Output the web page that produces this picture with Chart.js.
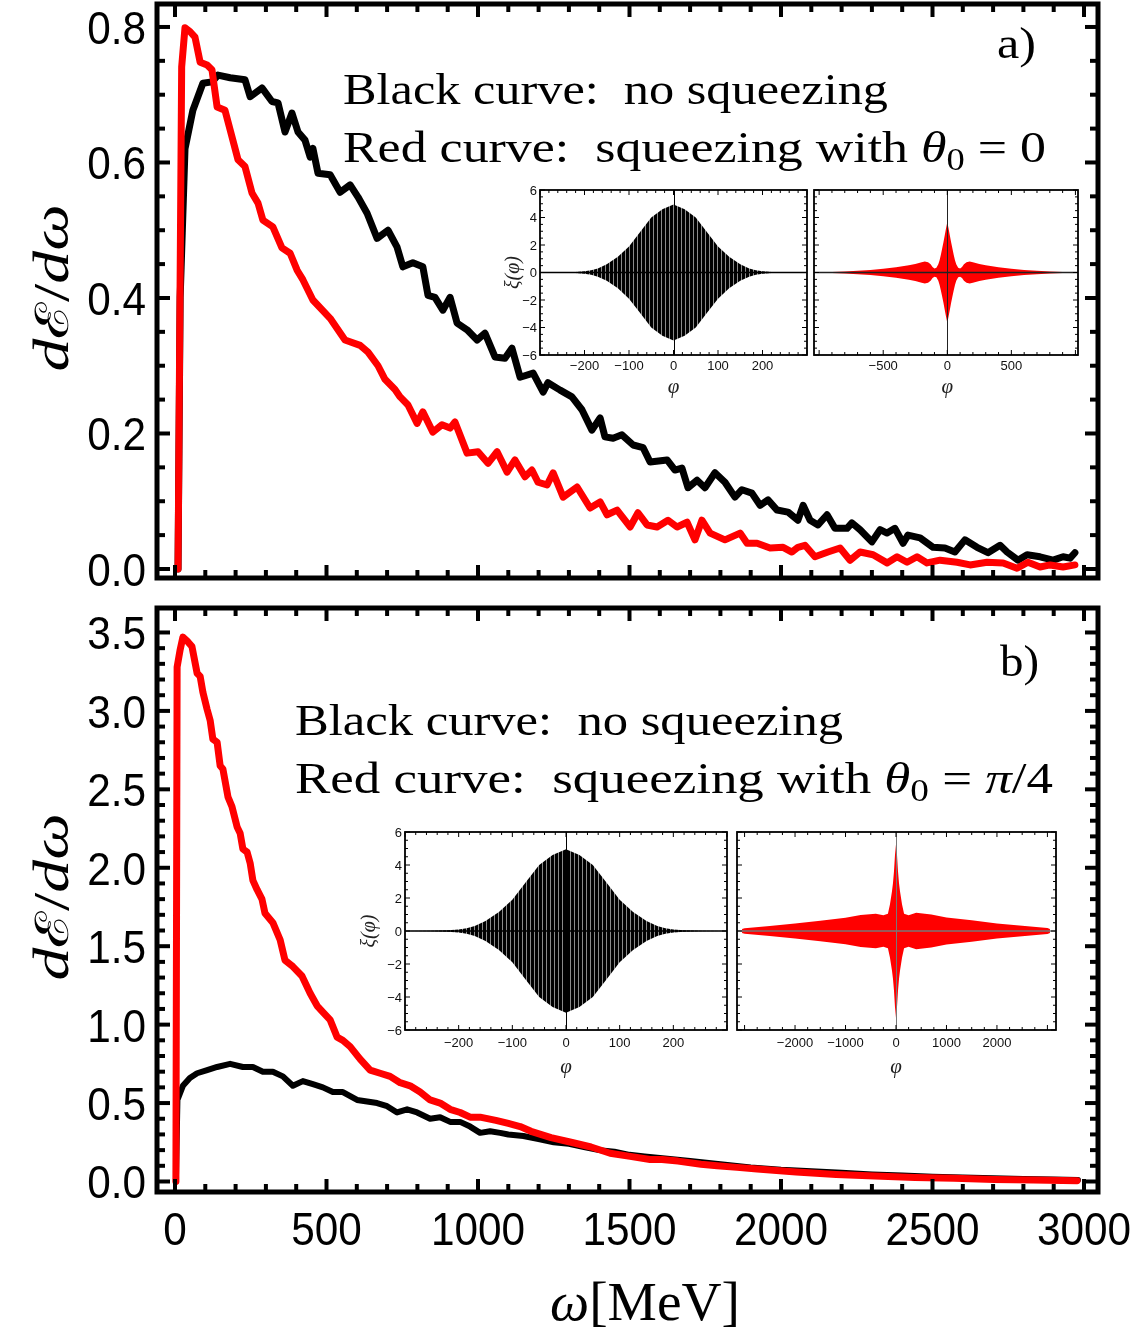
<!DOCTYPE html>
<html><head><meta charset="utf-8">
<script src="https://cdn.jsdelivr.net/npm/chart.js@4.4.1/dist/chart.umd.min.js"></script>
<style>
html,body{margin:0;padding:0;background:#fff;}
body{position:relative;width:1141px;height:1337px;overflow:hidden;}
canvas{position:absolute;}
</style></head><body>
<script>
// ---------------- DATA ----------------
// Panel a) : no squeezing (black) / squeezing theta0 = 0 (red)
const aBlackW = [10,17,33,59,92,122,142,182,231,248,287,320,340,363,386,406,429,446,455,472,512,545,578,604,634,667,703,733,752,785,818,835,858,884,908,931,964,997,1023,1056,1089,1112,1139,1182,1215,1231,1271,1310,1343,1376,1403,1419,1446,1475,1512,1545,1568,1624,1650,1673,1693,1723,1749,1782,1815,1848,1871,1904,1931,1957,1987,2023,2056,2073,2096,2122,2152,2178,2218,2234,2261,2300,2327,2350,2376,2403,2419,2459,2502,2541,2574,2607,2647,2683,2723,2746,2782,2812,2855,2898,2931,2954,2970];
const aBlackE = [0,0.40,0.62,0.677,0.717,0.719,0.729,0.725,0.722,0.697,0.71,0.69,0.688,0.645,0.673,0.645,0.633,0.608,0.621,0.584,0.582,0.556,0.567,0.549,0.525,0.488,0.50,0.475,0.446,0.452,0.446,0.404,0.401,0.382,0.401,0.363,0.353,0.338,0.348,0.313,0.311,0.326,0.283,0.289,0.261,0.275,0.264,0.254,0.235,0.205,0.223,0.195,0.193,0.198,0.183,0.179,0.158,0.161,0.146,0.149,0.12,0.131,0.12,0.142,0.128,0.106,0.117,0.112,0.094,0.102,0.087,0.084,0.072,0.094,0.072,0.065,0.08,0.06,0.06,0.068,0.058,0.04,0.058,0.053,0.06,0.038,0.05,0.046,0.032,0.031,0.025,0.043,0.032,0.024,0.035,0.025,0.013,0.021,0.018,0.013,0.018,0.016,0.024];
const aRedW = [10,22,33,50,66,83,106,122,139,165,182,208,231,254,274,290,323,353,380,403,422,455,512,561,611,637,670,693,726,743,769,799,818,851,881,908,924,964,1000,1033,1063,1096,1122,1155,1178,1198,1228,1248,1281,1327,1370,1403,1426,1459,1502,1528,1558,1591,1627,1657,1690,1716,1739,1766,1815,1865,1888,1921,1964,2007,2036,2056,2079,2112,2155,2195,2228,2261,2304,2350,2383,2416,2449,2482,2525,2581,2624,2680,2733,2779,2815,2855,2888,2931,2970];
const aRedE = [0,0.741,0.799,0.793,0.785,0.748,0.744,0.737,0.682,0.677,0.648,0.604,0.594,0.555,0.54,0.515,0.505,0.474,0.466,0.441,0.427,0.397,0.37,0.338,0.33,0.32,0.30,0.28,0.265,0.254,0.242,0.215,0.232,0.202,0.213,0.208,0.217,0.171,0.173,0.156,0.173,0.143,0.161,0.136,0.146,0.128,0.124,0.142,0.106,0.121,0.09,0.099,0.08,0.087,0.062,0.083,0.065,0.062,0.072,0.062,0.069,0.043,0.072,0.053,0.043,0.053,0.038,0.038,0.031,0.032,0.025,0.032,0.035,0.018,0.025,0.031,0.013,0.025,0.021,0.009,0.018,0.01,0.018,0.009,0.013,0.01,0.006,0.01,0.009,0.001,0.01,0.003,0.006,0.003,0.006];

// Panel b) : no squeezing (black) / squeezing theta0 = pi/4 (red)
const bRedW = [3,7,17,26,43,56,73,83,92,106,116,125,139,149,158,175,188,205,215,224,238,248,257,271,287,297,323,347,363,389,419,446,469,488,512,535,554,578,611,644,677,710,743,776,809,842,875,908,941,974,1007,1059,1100,1139,1175,1241,1307,1373,1436,1502,1568,1607,1660,1736,1789,1855,1921,2050,2182,2310,2442,2571,2703,2832,2977];
const bRedE = [0,3.28,3.39,3.47,3.44,3.41,3.24,3.22,3.12,3.01,2.94,2.82,2.80,2.65,2.63,2.45,2.39,2.26,2.22,2.12,2.10,2.03,1.92,1.86,1.80,1.71,1.65,1.54,1.41,1.37,1.31,1.20,1.12,1.08,1.03,0.92,0.90,0.86,0.78,0.71,0.69,0.67,0.63,0.61,0.57,0.52,0.50,0.46,0.44,0.41,0.41,0.39,0.37,0.35,0.32,0.28,0.25,0.22,0.18,0.16,0.14,0.14,0.13,0.11,0.10,0.09,0.08,0.06,0.045,0.035,0.025,0.02,0.013,0.01,0.005];
const bBlackW = [3,8,26,49,73,106,139,182,224,257,290,323,356,389,422,455,488,521,554,601,634,667,700,733,766,799,842,875,908,941,974,1007,1040,1073,1100,1150,1200,1250,1300,1350,1400,1450,1500,1550,1600,1650,1700,1800,1900,2000,2100,2200,2300,2400,2500,2600,2700,2800,2900,2980];
const bBlackE = [0,0.52,0.61,0.66,0.69,0.71,0.73,0.75,0.73,0.73,0.70,0.70,0.67,0.61,0.64,0.62,0.60,0.57,0.57,0.52,0.51,0.50,0.48,0.44,0.46,0.44,0.40,0.41,0.38,0.38,0.35,0.31,0.32,0.31,0.30,0.29,0.27,0.25,0.24,0.22,0.20,0.19,0.17,0.16,0.15,0.14,0.13,0.11,0.09,0.075,0.065,0.055,0.045,0.038,0.03,0.025,0.02,0.016,0.012,0.01];

// Insets: envelopes |xi(phi)| of the pulses
const pulsePhi = [-300,-250,-220,-200,-185,-170,-150,-125,-100,-75,-50,-25,0,25,50,75,100,125,150,170,185,200,220,250,300];
const pulseAmp = [0,0.01,0.04,0.09,0.17,0.3,0.6,1.15,1.9,2.95,4.0,4.6,4.95,4.6,4.0,2.95,1.9,1.15,0.6,0.3,0.17,0.09,0.04,0.01,0];
const sqAPhi = [-1040,-900,-800,-700,-600,-500,-400,-300,-250,-200,-175,-150,-130,-115,-100,-85,-70,-60,-50,-40,-30,-20,-10,0,10,20,30,40,50,60,70,85,100,115,130,150,175,200,250,300,400,500,600,700,800,900,1020];
const sqAAmp = [0.02,0.04,0.07,0.12,0.19,0.28,0.39,0.53,0.62,0.74,0.8,0.75,0.6,0.4,0.3,0.35,0.6,0.9,1.3,1.75,2.2,2.7,3.2,3.65,3.2,2.7,2.2,1.75,1.3,0.9,0.6,0.35,0.3,0.4,0.6,0.75,0.8,0.74,0.62,0.53,0.39,0.28,0.19,0.12,0.07,0.04,0.02];
const sqBPhi = [-3050,-3000,-2500,-2000,-1500,-1000,-700,-400,-250,-160,-120,-80,-60,-40,-20,0,20,40,60,80,120,160,250,400,700,1000,1500,2000,2500,3000,3050];
const sqBAmp = [0.12,0.16,0.3,0.45,0.62,0.8,0.97,1.05,0.95,1.05,1.6,2.4,2.9,3.6,4.6,5.25,4.6,3.6,2.9,2.4,1.6,1.05,0.95,1.1,1.0,0.82,0.65,0.46,0.32,0.18,0.12];

// Tick labels
const xTickLabels = ['0','500','1000','1500','2000','2500','3000'];
const yTickLabelsA = ['0.0','0.2','0.4','0.6','0.8'];
const yTickLabelsB = ['0.0','0.5','1.0','1.5','2.0','2.5','3.0','3.5'];
const insetYTicks = [-6,-4,-2,0,2,4,6];
const insetPulseXTicks = [-200,-100,0,100,200];
const insetSqAXTicks = [-500,0,500];
const insetSqBXTicks = [-2000,-1000,0,1000,2000];

// ---------------- HELPERS ----------------
const zip = (xs, ys) => xs.map((x, i) => ({x, y: ys[i]}));
const fmt = v => (v < 0 ? '\u2212' + Math.abs(v) : String(v));
function mk(x, y, w, h) {
  const c = document.createElement('canvas');
  c.width = w; c.height = h;
  Object.assign(c.style, {left: x + 'px', top: y + 'px', width: w + 'px', height: h + 'px'});
  document.body.appendChild(c);
  return c;
}
function runs(ctx, list, x, y, opt) {
  ctx.save();
  let total = 0;
  for (const r of list) { ctx.font = r.f; r.w = ctx.measureText(r.t).width; total += r.w; }
  const s = opt.width ? opt.width / total : (opt.scale || 1);
  ctx.translate(x, y);
  if (opt.rot) ctx.rotate(opt.rot);
  ctx.scale(s, 1);
  let cx = opt.align === 'center' ? -total / 2 : opt.align === 'right' ? -total : 0;
  ctx.textAlign = 'left'; ctx.textBaseline = 'alphabetic'; ctx.fillStyle = opt.color || '#000';
  for (const r of list) { ctx.font = r.f; ctx.fillText(r.t, cx, r.dy || 0); cx += r.w; }
  ctx.restore();
}
function seg(ctx, x1, y1, x2, y2) { ctx.beginPath(); ctx.moveTo(x1, y1); ctx.lineTo(x2, y2); ctx.stroke(); }

const SERIF = "'Liberation Serif','DejaVu Serif',serif";
const SANS = "'Liberation Sans','DejaVu Sans',sans-serif";

// ---------------- MAIN PANELS ----------------
function mainDecor(o) {
  return {
    id: 'main' + o.name,
    afterDraw(chart) {
      const ctx = chart.ctx, a = chart.chartArea, xs = chart.scales.x, ys = chart.scales.y;
      ctx.save();
      ctx.strokeStyle = '#000';
      ctx.lineCap = 'butt';
      ctx.lineWidth = 4;
      for (let i = 0; i <= 30; i++) {
        const v = i * 100, major = i % 5 === 0, L = major ? 13 : 8, px = xs.getPixelForValue(v);
        seg(ctx, px, a.bottom, px, a.bottom - L);
        seg(ctx, px, a.top, px, a.top + L);
      }
      const nMinor = Math.round(o.yMax / o.yMinorStep);
      const per = Math.round(o.yMajorStep / o.yMinorStep);
      for (let i = 0; i <= nMinor; i++) {
        const v = i * o.yMinorStep, major = i % per === 0, L = major ? 13 : 8, py = ys.getPixelForValue(v);
        seg(ctx, a.left, py, a.left + L, py);
        seg(ctx, a.right, py, a.right - L, py);
      }
      ctx.lineWidth = 5;
      ctx.strokeRect(a.left, a.top, a.right - a.left, a.bottom - a.top);
      // y tick labels
      for (const lab of o.yLabels) {
        const py = ys.getPixelForValue(parseFloat(lab));
        runs(ctx, [{t: lab, f: '47px ' + SANS}], 146, py + 17, {align: 'right', scale: 0.9});
      }
      if (o.xLabels) {
        for (const lab of o.xLabels) {
          const px = xs.getPixelForValue(parseFloat(lab));
          runs(ctx, [{t: lab, f: '47px ' + SANS}], px, o.xLabelY, {align: 'center', scale: 0.9});
        }
        runs(ctx, [{t: '\u03c9', f: 'italic 54px ' + SERIF}, {t: '[MeV]', f: '54px ' + SERIF}], 550, o.xTitleY, {width: 190});
      }
      // y title
      runs(ctx, [
        {t: 'd', f: 'italic 50px ' + SERIF},
        {t: '\u2130', f: '46px ' + SERIF},
        {t: '/', f: '50px ' + SERIF},
        {t: 'd\u03c9', f: 'italic 50px ' + SERIF}
      ], 68, o.yTitleY, {align: 'center', rot: -Math.PI / 2, width: 167});
      // annotations
      for (const t of o.texts) runs(ctx, t.runs, t.x, t.y, {width: t.w});
      ctx.restore();
    }
  };
}

function mainChart(canvas, pad, xr, yr, datasets, decor) {
  return new Chart(canvas, {
    type: 'line',
    data: {datasets},
    options: {
      responsive: false, animation: false, events: [], devicePixelRatio: 1,
      layout: {padding: pad},
      plugins: {legend: {display: false}, tooltip: {enabled: false}},
      scales: {
        x: {type: 'linear', display: false, min: xr[0], max: xr[1]},
        y: {type: 'linear', display: false, min: yr[0], max: yr[1]}
      },
      elements: {point: {radius: 0}, line: {tension: 0, borderJoinStyle: 'round', borderCapStyle: 'round'}}
    },
    plugins: [decor]
  });
}

const F = 44;
const txt = s => ({t: s, f: F + 'px ' + SERIF});
const ita = s => ({t: s, f: 'italic ' + F + 'px ' + SERIF});
const sub = s => ({t: s, f: Math.round(F * 0.7) + 'px ' + SERIF, dy: 8});

const cA = mk(0, 0, 1141, 600);
mainChart(cA, {left: 157, right: 43, top: 4, bottom: 22}, [-59.4, 3046.2], [-0.0133, 0.8339], [
  {data: zip(aRedW, aRedE), borderColor: '#ff0000', borderWidth: 7, fill: false},
  {data: zip(aBlackW, aBlackE), borderColor: '#000000', borderWidth: 7, fill: false}
], mainDecor({
  name: 'A', yMax: 0.8, yMinorStep: 0.05, yMajorStep: 0.2, yLabels: yTickLabelsA, yTitleY: 288,
  texts: [
    {runs: [txt('a)')], x: 997, y: 58, w: 39},
    {runs: [txt('Black curve:  no squeezing')], x: 343, y: 104, w: 545},
    {runs: [txt('Red curve:  squeezing with '), ita('\u03b8'), sub('0'), txt(' = 0')], x: 343, y: 162, w: 703}
  ]
}));

const cB = mk(0, 600, 1141, 737);
mainChart(cB, {left: 157, right: 43, top: 8, bottom: 145}, [-59.4, 3046.2], [-0.067, 3.656], [
  {data: zip(bRedW, bRedE), borderColor: '#ff0000', borderWidth: 7, fill: false},
  {data: zip(bBlackW, bBlackE), borderColor: '#000000', borderWidth: 6, fill: false}
], mainDecor({
  name: 'B', yMax: 3.5, yMinorStep: 0.1, yMajorStep: 0.5, yLabels: yTickLabelsB, yTitleY: 297,
  xLabels: xTickLabels, xLabelY: 645, xTitleY: 720,
  texts: [
    {runs: [txt('b)')], x: 1000, y: 76, w: 39},
    {runs: [txt('Black curve:  no squeezing')], x: 295, y: 135, w: 548},
    {runs: [txt('Red curve:  squeezing with '), ita('\u03b8'), sub('0'), txt(' = '), ita('\u03c0'), txt('/4')], x: 295, y: 193, w: 758}
  ]
}));

// ---------------- INSETS ----------------
function insetDecor(o) {
  return {
    id: 'ins' + o.name,
    beforeDatasetsDraw(chart) {
      const a = chart.chartArea, ctx = chart.ctx;
      ctx.save(); ctx.fillStyle = '#fff'; ctx.fillRect(a.left, a.top, a.right - a.left, a.bottom - a.top); ctx.restore();
    },
    afterDatasetsDraw(chart) {
      const ctx = chart.ctx, a = chart.chartArea, xs = chart.scales.x, ys = chart.scales.y;
      ctx.save();
      ctx.strokeStyle = o.axisColor;
      ctx.lineWidth = 1;
      const x0 = Math.round(xs.getPixelForValue(0)) + 0.5, y0 = ys.getPixelForValue(0);
      seg(ctx, x0, a.top, x0, a.bottom);
      ctx.lineWidth = 1.6;
      seg(ctx, a.left, y0, a.right, y0);
      ctx.strokeStyle = '#000';
      ctx.lineWidth = 1;
      const start = Math.ceil(xs.min / o.xMinor) * o.xMinor;
      for (let v = start; v <= xs.max; v += o.xMinor) {
        const major = Math.abs(v % o.xMajor) < 1e-6, L = major ? 5 : 3, px = xs.getPixelForValue(v);
        seg(ctx, px, a.bottom, px, a.bottom - L);
        seg(ctx, px, a.top, px, a.top + L);
      }
      for (let i = -12; i <= 12; i++) {
        const v = i * 0.5, major = i % 4 === 0, L = major ? 5 : 3, py = ys.getPixelForValue(v);
        seg(ctx, a.left, py, a.left + L, py);
        seg(ctx, a.right, py, a.right - L, py);
      }
      ctx.lineWidth = 1.8;
      ctx.strokeRect(a.left, a.top, a.right - a.left, a.bottom - a.top);
      ctx.fillStyle = '#000';
      for (const v of o.xTicks) {
        runs(ctx, [{t: fmt(v), f: '13px ' + SANS}], xs.getPixelForValue(v), a.bottom + o.labOff, {align: 'center', color: '#111'});
      }
      if (o.yLabels) {
        for (const v of insetYTicks) {
          runs(ctx, [{t: fmt(v), f: '13px ' + SANS}], a.left - 3, ys.getPixelForValue(v) + 4.5, {align: 'right', color: '#111'});
        }
        runs(ctx, [{t: '\u03be(\u03c6)', f: 'italic 20px ' + SERIF}], o.yTitleX, (a.top + a.bottom) / 2, {align: 'center', rot: -Math.PI / 2, color: '#222'});
      }
      runs(ctx, [{t: '\u03c6', f: 'italic 21px ' + SERIF}], xs.getPixelForValue(0), a.bottom + o.titleOff, {align: 'center', color: '#222'});
      ctx.restore();
    }
  };
}

function insetChart(canvas, pad, xr, phi, amp, fillStyle, decor) {
  return new Chart(canvas, {
    type: 'line',
    data: {datasets: [
      {data: zip(phi, amp), borderWidth: 0, borderColor: 'rgba(0,0,0,0)', backgroundColor: fillStyle, fill: 'origin'},
      {data: zip(phi, amp.map(v => -v)), borderWidth: 0, borderColor: 'rgba(0,0,0,0)', backgroundColor: fillStyle, fill: 'origin'}
    ]},
    options: {
      responsive: false, animation: false, events: [], devicePixelRatio: 1,
      layout: {padding: pad},
      plugins: {legend: {display: false}, tooltip: {enabled: false}},
      scales: {
        x: {type: 'linear', display: false, min: xr[0], max: xr[1]},
        y: {type: 'linear', display: false, min: -6, max: 6}
      },
      elements: {point: {radius: 0}, line: {tension: 0}}
    },
    plugins: [decor]
  });
}

function stripePattern(ctx) {
  const pc = document.createElement('canvas');
  pc.width = 4; pc.height = 1;
  const p = pc.getContext('2d');
  p.fillStyle = '#000'; p.fillRect(0, 0, 4, 1);
  p.fillStyle = '#8a8a8a'; p.fillRect(3, 0, 1, 1);
  return ctx.createPattern(pc, 'repeat');
}

const i1 = mk(490, 180, 325, 225);
insetChart(i1, {left: 50, right: 8, top: 10, bottom: 50}, [-300, 300], pulsePhi, pulseAmp, stripePattern(i1.getContext('2d')),
  insetDecor({name: '1', axisColor: '#000', xMinor: 20, xMajor: 100, xTicks: insetPulseXTicks, yLabels: true, yTitleX: 29, labOff: 15, titleOff: 38}));

const i2 = mk(812, 180, 285, 225);
insetChart(i2, {left: 2, right: 19, top: 10, bottom: 50}, [-1040, 1020], sqAPhi, sqAAmp, '#ff0000',
  insetDecor({name: '2', axisColor: '#222', xMinor: 100, xMajor: 500, xTicks: insetSqAXTicks, yLabels: false, labOff: 15, titleOff: 38}));

const i3 = mk(355, 822, 380, 265);
insetChart(i3, {left: 50, right: 8, top: 10, bottom: 57}, [-300, 300], pulsePhi, pulseAmp, stripePattern(i3.getContext('2d')),
  insetDecor({name: '3', axisColor: '#000', xMinor: 20, xMajor: 100, xTicks: insetPulseXTicks, yLabels: true, yTitleX: 20, labOff: 17, titleOff: 43}));

const i4 = mk(733, 822, 340, 265);
insetChart(i4, {left: 4, right: 17, top: 10, bottom: 57}, [-3150, 3170], sqBPhi, sqBAmp, '#ff0000',
  insetDecor({name: '4', axisColor: '#777', xMinor: 250, xMajor: 1000, xTicks: insetSqBXTicks, yLabels: false, labOff: 17, titleOff: 43}));
</script>
</body></html>
